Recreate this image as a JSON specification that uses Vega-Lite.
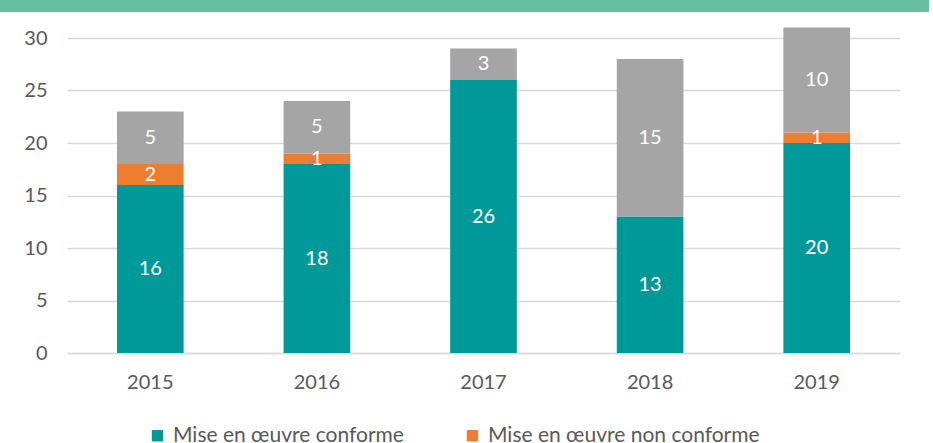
{
  "$schema": "https://vega.github.io/schema/vega-lite/v6.json",
  "padding": 0,
  "background": "white",
  "spacing": 15,
  "config": {"font": "Lato", "view": {"stroke": null}},
  "vconcat": [
    {
      "width": 929,
      "height": 12,
      "view": {"fill": "#66BFA0", "stroke": null},
      "data": {"values": [{}]},
      "mark": {"type": "text", "text": ""}
    },
    {
      "width": 900,
      "height": 315,
      "data": {
        "values": [
          {"year": "2015", "status": "Mise en œuvre conforme", "order": 1, "count": 16},
          {"year": "2015", "status": "Mise en œuvre non conforme", "order": 2, "count": 2},
          {"year": "2015", "status": "Non mise en œuvre", "order": 3, "count": 5},
          {"year": "2016", "status": "Mise en œuvre conforme", "order": 1, "count": 18},
          {"year": "2016", "status": "Mise en œuvre non conforme", "order": 2, "count": 1},
          {"year": "2016", "status": "Non mise en œuvre", "order": 3, "count": 5},
          {"year": "2017", "status": "Mise en œuvre conforme", "order": 1, "count": 26},
          {"year": "2017", "status": "Non mise en œuvre", "order": 3, "count": 3},
          {"year": "2018", "status": "Mise en œuvre conforme", "order": 1, "count": 13},
          {"year": "2018", "status": "Non mise en œuvre", "order": 3, "count": 15},
          {"year": "2019", "status": "Mise en œuvre conforme", "order": 1, "count": 20},
          {"year": "2019", "status": "Mise en œuvre non conforme", "order": 2, "count": 1},
          {"year": "2019", "status": "Non mise en œuvre", "order": 3, "count": 10}
        ]
      },
      "encoding": {
        "x": {
          "field": "year",
          "type": "ordinal",
          "scale": {"paddingInner": 0.6, "paddingOuter": 0.3, "range": [67, 900]},
          "axis": {
            "title": null,
            "labelAngle": 0,
            "ticks": false,
            "domainColor": "#D9D9D9",
            "domainWidth": 1.5,
            "labelPadding": 19,
            "labelFontSize": 20,
            "labelColor": "#595959"
          }
        }
      },
      "layer": [
        {
          "mark": {"type": "bar"},
          "encoding": {
            "y": {
              "field": "count",
              "type": "quantitative",
              "stack": "zero",
              "scale": {"domain": [0, 30], "nice": false},
              "axis": {
                "title": null,
                "values": [0, 5, 10, 15, 20, 25, 30],
                "domain": false,
                "ticks": false,
                "offset": -67,
                "labelPadding": 20,
                "labelFontSize": 20,
                "labelColor": "#595959",
                "gridColor": "#D9D9D9",
                "gridWidth": 1.5
              }
            },
            "color": {
              "field": "status",
              "type": "nominal",
              "scale": {
                "domain": ["Mise en œuvre conforme", "Mise en œuvre non conforme", "Non mise en œuvre"],
                "range": ["#009999", "#ED7D31", "#A5A5A5"]
              },
              "legend": {
                "orient": "none",
                "legendX": 147,
                "legendY": 425,
                "direction": "horizontal",
                "values": ["Mise en œuvre conforme", "Mise en œuvre non conforme"],
                "symbolType": "square",
                "symbolSize": 130,
                "symbolStrokeWidth": 0,
                "labelFontSize": 21,
                "labelLimit": 400,
                "labelColor": "#595959",
                "labelOffset": 5,
                "columnPadding": 58,
                "padding": 0,
                "title": null
              }
            },
            "order": {"field": "order"}
          }
        },
        {
          "transform": [
            {"stack": "count", "groupby": ["year"], "sort": [{"field": "order"}], "as": ["c0", "c1"]},
            {"calculate": "(datum.c0 + datum.c1) / 2", "as": "mid"}
          ],
          "mark": {"type": "text", "color": "white", "fontSize": 20, "baseline": "middle"},
          "encoding": {
            "y": {"field": "mid", "type": "quantitative"},
            "text": {"field": "count", "type": "quantitative"}
          }
        }
      ]
    }
  ]
}
